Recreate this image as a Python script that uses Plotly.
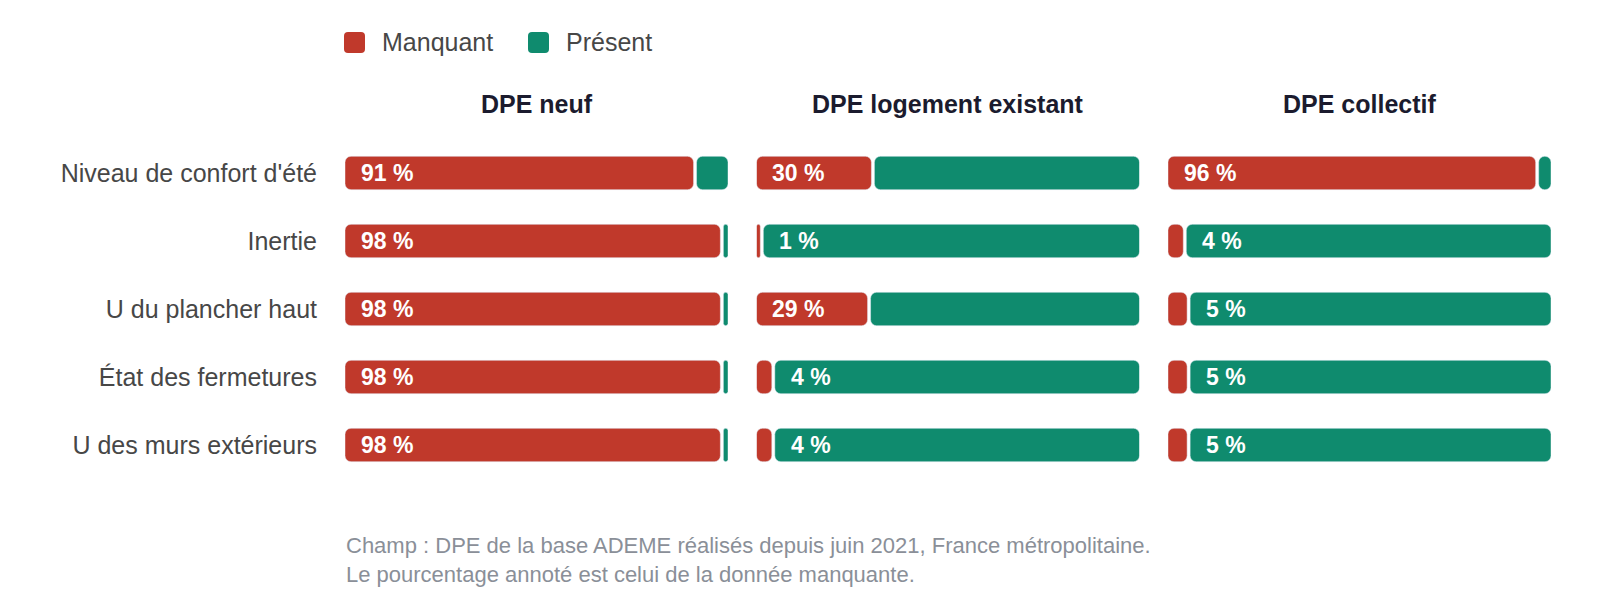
import plotly.graph_objects as go
from plotly.subplots import make_subplots

# Data (share of DPE where the field is missing)
categories = [
    "Niveau de confort d'été",
    "Inertie",
    "U du plancher haut",
    "État des fermetures",
    "U des murs extérieurs",
]
panels = ["DPE neuf", "DPE logement existant", "DPE collectif"]
manquant_neuf = [91, 98, 98, 98, 98]
manquant_existant = [30, 1, 29, 4, 4]
manquant_collectif = [96, 4, 5, 5, 5]
series_names = ["Manquant", "Présent"]
footer_lines = [
    "Champ : DPE de la base ADEME réalisés depuis juin 2021, France métropolitaine.",
    "Le pourcentage annoté est celui de la donnée manquante.",
]

RED = "#c0392b"
GREEN = "#0f8b6e"
FONT = "Liberation Sans, Arial, sans-serif"
W, H = 1600, 600
ML, MR, MT, MB = 337, 57, 131, 129
PLOT_W = W - ML - MR
PLOT_H = H - MT - MB
HSPACE = 0.0236
PANEL_PX = PLOT_W * (1 - 2 * HSPACE) / 3
GAP = 3 / PANEL_PX * 100  # white separator of ~3px, in axis units


def px_x(px):
    return (px - ML) / PLOT_W


def px_y(px):
    return (H - MB - px) / PLOT_H


fig = make_subplots(rows=1, cols=3, shared_yaxes=True, horizontal_spacing=HSPACE)

all_manquant = [manquant_neuf, manquant_existant, manquant_collectif]
for i, manq in enumerate(all_manquant, start=1):
    pres = [100 - v - GAP for v in manq]
    # missing part drawn from its end back towards 0 so the rounded end sits on the left
    fig.add_trace(
        go.Bar(
            y=categories, x=[-v for v in manq], base=manq, orientation="h",
            name=series_names[0], marker=dict(color=RED, cornerradius=6),
            showlegend=False, hoverinfo="skip",
        ),
        row=1, col=i,
    )
    fig.add_trace(
        go.Bar(
            y=categories, x=pres, base=[v + GAP for v in manq], orientation="h",
            name=series_names[1], marker=dict(color=GREEN, cornerradius=6),
            showlegend=False, hoverinfo="skip",
        ),
        row=1, col=i,
    )
    xref = "x" if i == 1 else f"x{i}"
    yref = "y" if i == 1 else f"y{i}"
    for cat, v in zip(categories, manq):
        big = v >= 10
        fig.add_annotation(
            x=0 if big else v + GAP, y=cat, xref=xref, yref=yref,
            text=f"{v} %", showarrow=False, xanchor="left", yanchor="middle",
            xshift=14,
            font=dict(family=FONT, size=23, color="white", weight="bold"),
        )

fig.update_layout(barmode="overlay", bargap=0.51)
fig.update_xaxes(range=[0, 100], visible=False, fixedrange=True)
fig.update_yaxes(
    categoryorder="array", categoryarray=categories, range=[4.5, -0.5],
    showgrid=False, zeroline=False, showline=False, ticks="",
    ticklabelstandoff=27,
    tickfont=dict(family=FONT, size=25, color="#474747"),
)
fig.update_yaxes(showticklabels=False, col=2)
fig.update_yaxes(showticklabels=False, col=3)

# panel titles
for i, title in enumerate(panels, start=1):
    dom = fig.layout["xaxis" if i == 1 else f"xaxis{i}"].domain
    fig.add_annotation(
        x=(dom[0] + dom[1]) / 2, y=px_y(96),
        xref="paper", yref="paper", text=f"<b>{title}</b>", showarrow=False,
        xanchor="center", yanchor="middle",
        font=dict(family=FONT, size=25, color="#1b1b2e"),
    )

# custom legend with rounded squares
legend_y = px_y(34.5)
sq = ("M -6.5,-10.5 L 6.5,-10.5 Q 10.5,-10.5 10.5,-6.5 L 10.5,6.5 "
      "Q 10.5,10.5 6.5,10.5 L -6.5,10.5 Q -10.5,10.5 -10.5,6.5 "
      "L -10.5,-6.5 Q -10.5,-10.5 -6.5,-10.5 Z")
for name, color, sq_px, txt_px in [(series_names[0], RED, 346.5, 372),
                                   (series_names[1], GREEN, 530.5, 556)]:
    fig.add_shape(
        type="path", path=sq, xref="paper", yref="paper",
        xsizemode="pixel", ysizemode="pixel",
        xanchor=px_x(sq_px), yanchor=legend_y,
        fillcolor=color, line=dict(width=0),
    )
    fig.add_annotation(
        x=px_x(txt_px), y=legend_y, xref="paper", yref="paper",
        text=name, showarrow=False, xanchor="left", yanchor="middle",
        font=dict(family=FONT, size=25, color="#474747"),
    )

# footer note
fig.add_annotation(
    x=px_x(ML - 1), y=px_y(523), xref="paper", yref="paper",
    xanchor="left", yanchor="top", align="left", showarrow=False,
    text="<br>".join(footer_lines),
    font=dict(family=FONT, size=22, color="#8a8f98"),
)

fig.update_layout(
    width=W, height=H,
    margin=dict(l=ML, r=MR, t=MT, b=MB),
    paper_bgcolor="white", plot_bgcolor="white",
    showlegend=False,
    font=dict(family=FONT),
)

fig.write_html("out.html")
